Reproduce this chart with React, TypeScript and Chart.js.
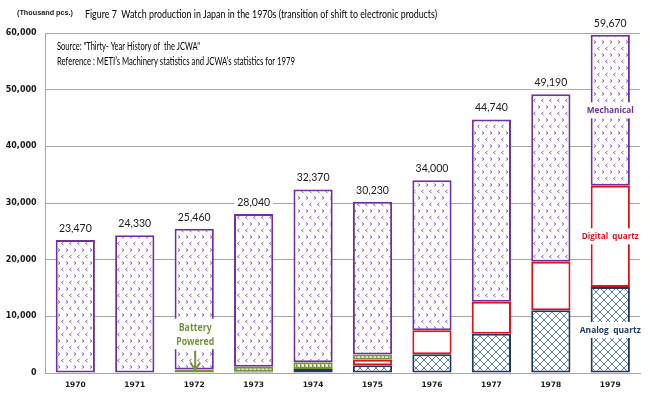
import React, { useEffect, useRef } from "react";
import { Chart, registerables } from "chart.js";

Chart.register(...registerables);

const years = ["1970", "1971", "1972", "1973", "1974", "1975", "1976", "1977", "1978", "1979"];
const analogQuartz: (number | null)[] = [null, null, null, 200, 700, 1350, 3300, 6940, 11060, 15180];
const digitalQuartz: (number | null)[] = [null, null, null, null, null, 1000, 4230, 5640, 8580, 17870];
const batteryPowered: (number | null)[] = [null, null, 600, 900, 1200, 900, null, null, null, null];
const mechanical: number[] = [23470, 24330, 24860, 26940, 30470, 26980, 26470, 32160, 29550, 26620];
const totals: number[] = [23470, 24330, 25460, 28040, 32370, 30230, 34000, 44740, 49190, 59670];
const yMax = 60000;
const yStep = 10000;

const titleText = "Figure 7  Watch production in Japan in the 1970s (transition of shift to electronic products)";
const unitText = "(Thousand pcs.)";
const sourceLines = [
  'Source: "Thirty- Year History of  the JCWA"',
  "Reference : METI\u2019s Machinery statistics and JCWA\u2019s statistics for 1979",
];

const fmt = (v: number) => v.toLocaleString("en-US");

function makePattern(w: number, h: number, draw: (g: CanvasRenderingContext2D) => void) {
  const c = document.createElement("canvas");
  c.width = w;
  c.height = h;
  const g = c.getContext("2d")!;
  draw(g);
  return g.createPattern(c, "repeat")!;
}

const PURPLE = "#7030A0";
const NAVY = "#1F3864";
const RED = "#E0121B";
const GREEN = "#77933C";
const TXT = '"Lato", "Open Sans", sans-serif';
const BOLD = '"Open Sans", "Noto Sans", sans-serif';

export default function App() {
  const ref = useRef<HTMLCanvasElement>(null);
  useEffect(() => {
    document.body.style.margin = "0";
    const mechPat = makePattern(8, 13, (g) => {
      g.fillStyle = "#fff";
      g.fillRect(0, 0, 8, 13);
      g.strokeStyle = "#8B55C0";
      g.lineWidth = 1;
      g.beginPath();
      g.moveTo(2, 1.5); g.lineTo(4, 3); g.lineTo(2, 4.5);
      g.moveTo(7.5, 8); g.lineTo(5.5, 9.5); g.lineTo(7.5, 11);
      g.stroke();
    });
    const analogPat = makePattern(8, 8, (g) => {
      g.fillStyle = "#fff";
      g.fillRect(0, 0, 8, 8);
      g.strokeStyle = "#5A7DB5";
      g.lineWidth = 1;
      g.beginPath();
      g.moveTo(0, 0); g.lineTo(8, 8);
      g.moveTo(8, 0); g.lineTo(0, 8);
      g.stroke();
    });
    const batteryPat = makePattern(4, 4, (g) => {
      g.fillStyle = "#E4ECD3";
      g.fillRect(0, 0, 4, 4);
      g.fillStyle = GREEN;
      g.fillRect(0, 0, 1.5, 4);
    });

    const annot = {
      id: "annot",
      afterDatasetsDraw(chart: any) {
        const { ctx, scales } = chart;
        const x = scales.x;
        const y = scales.y;
        ctx.save();
        ctx.textAlign = "center";
        ctx.textBaseline = "middle";

        // total labels
        ctx.font = `10.5px ${TXT}`;
        totals.forEach((t, i) => {
          const px = x.getPixelForValue(i);
          const py = y.getPixelForValue(t) - 12;
          const s = fmt(t);
          const w = ctx.measureText(s).width;
          ctx.fillStyle = "#fff";
          ctx.fillRect(px - w / 2 - 3, py - 7, w + 6, 14);
          ctx.fillStyle = "#1a1a1a";
          ctx.fillText(s, px, py + 0.5);
        });

        // series labels on last bar
        const last = years.length - 1;
        const a = analogQuartz[last] || 0;
        const d = digitalQuartz[last] || 0;
        const m = mechanical[last];
        const px = x.getPixelForValue(last);
        const boxLabel = (text: string, value: number, color: string, maxW: number) => {
          const py = y.getPixelForValue(value);
          ctx.fillStyle = "#fff";
          ctx.fillRect(px - maxW / 2 - 1, py - 8, maxW + 2, 16);
          ctx.fillStyle = color;
          ctx.font = `bold 9.5px ${BOLD}`;
          ctx.fillText(text, px, py, maxW);
        };
        boxLabel("Mechanical", a + d + m / 2, PURPLE, 47);
        boxLabel("Digital  quartz", a + d / 2, RED, 57);
        boxLabel("Analog  quartz", a / 2, NAVY, 61);

        // battery powered callout
        const bi = 2;
        const bx = x.getPixelForValue(bi);
        const boxTop = y.getPixelForValue(9600);
        const boxBottom = y.getPixelForValue(4200);
        ctx.fillStyle = "#fff";
        ctx.fillRect(bx - 22, boxTop, 44, boxBottom - boxTop);
        ctx.fillStyle = GREEN;
        ctx.font = `bold 10px ${BOLD}`;
        ctx.fillText("Battery", bx + 1, y.getPixelForValue(7950), 33);
        ctx.fillText("Powered", bx + 1, y.getPixelForValue(5500), 38);
        const aTop = y.getPixelForValue(3950);
        const aBot = y.getPixelForValue(600);
        ctx.strokeStyle = GREEN;
        ctx.lineWidth = 2;
        ctx.beginPath();
        ctx.moveTo(bx + 1, aTop);
        ctx.lineTo(bx + 1, aBot);
        ctx.moveTo(bx - 4, aBot - 7);
        ctx.lineTo(bx + 1, aBot);
        ctx.lineTo(bx + 6, aBot - 7);
        ctx.stroke();
        ctx.restore();
      },
      afterDraw(chart: any) {
        const { ctx } = chart;
        ctx.save();
        ctx.textBaseline = "middle";
        ctx.textAlign = "left";
        ctx.fillStyle = "#1a1a1a";
        ctx.font = 'bold 8px "Liberation Sans Narrow", "Liberation Sans"';
        ctx.fillText(unitText, 17, 13, 56);
        ctx.font = `10.5px ${TXT}`;
        ctx.fillStyle = "#000";
        ctx.fillText(titleText, 85, 15, 352);
        ctx.font = `10.5px ${TXT}`;
        ctx.fillText(sourceLines[0], 57, 47, 143);
        ctx.fillText(sourceLines[1], 57, 62, 238);
        ctx.restore();
      },
    };

    const common = { borderWidth: 2, borderSkipped: false as const, barPercentage: 0.66, categoryPercentage: 1 };
    const chart = new Chart(ref.current!, {
      type: "bar",
      data: {
        labels: years,
        datasets: [
          { label: "Analog quartz", data: analogQuartz, backgroundColor: analogPat, borderColor: NAVY, ...common },
          { label: "Digital quartz", data: digitalQuartz, backgroundColor: "#fff", borderColor: RED, ...common },
          { label: "Battery Powered", data: batteryPowered, backgroundColor: batteryPat, borderColor: GREEN, ...common },
          { label: "Mechanical", data: mechanical, backgroundColor: mechPat, borderColor: PURPLE, ...common },
        ] as any,
      },
      options: {
        animation: false,
        responsive: false,
        devicePixelRatio: 1,
        layout: { padding: { top: 33, right: 10, left: 0, bottom: 0 } },
        plugins: { legend: { display: false }, tooltip: { enabled: false }, title: { display: false } },
        scales: {
          x: {
            stacked: true,
            grid: { display: false, drawTicks: false },
            border: { color: "#A6A6A6", width: 1 },
            ticks: { color: "#1a1a1a", font: { family: "DejaVu Sans", size: 7.5, weight: "bold" }, padding: 8 },
            afterFit: (s: any) => { s.height = 23; },
          },
          y: {
            stacked: true,
            min: 0,
            max: yMax,
            grid: { color: "#A6A6A6", lineWidth: 1, drawTicks: false },
            border: { color: "#A6A6A6", width: 1 },
            ticks: {
              stepSize: yStep,
              color: "#1a1a1a",
              font: { family: "DejaVu Sans", size: 8, weight: "bold" },
              padding: 9,
              callback: (v: any) => fmt(Number(v)),
            },
            afterFit: (s: any) => { s.width = 45.6; },
          },
        },
      } as any,
      plugins: [annot],
    });
    return () => chart.destroy();
  }, []);
  return (
    <div style={{ width: 650, height: 396, background: "#fff" }}>
      <canvas ref={ref} width={650} height={396} style={{ display: "block" }} />
    </div>
  );
}
